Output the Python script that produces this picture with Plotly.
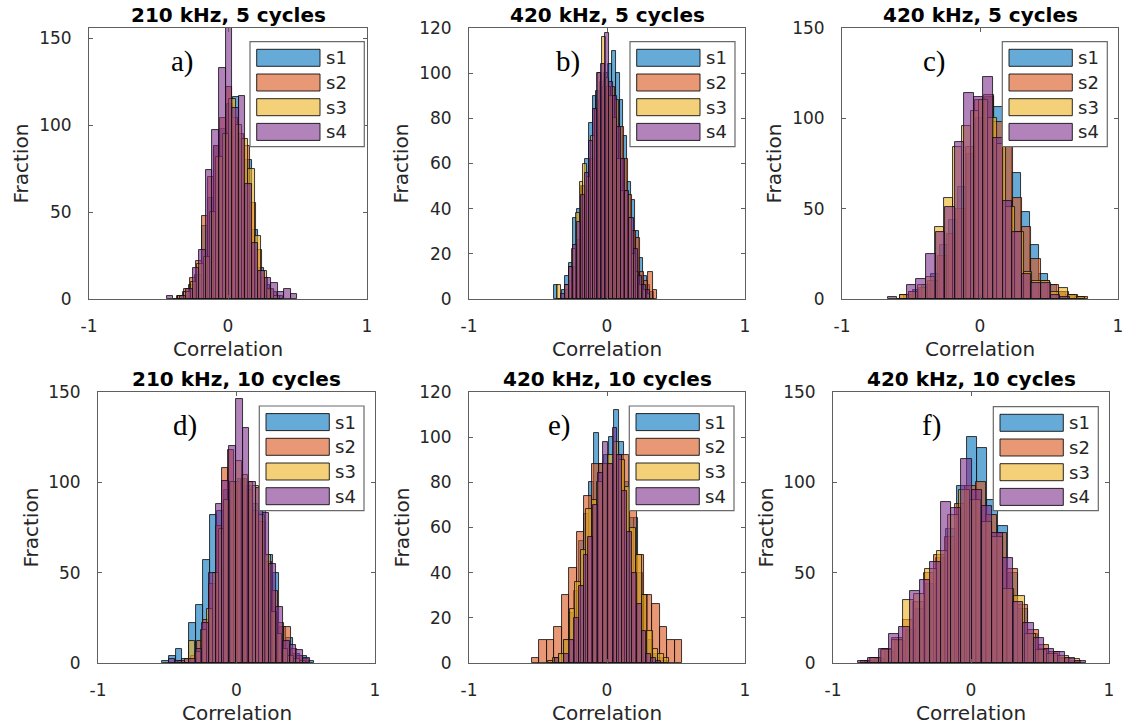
import plotly.graph_objects as go

W, H = 1126, 726

SERIES = ["s1", "s2", "s3", "s4"]
FILL = ["rgba(0,114,189,0.6)", "rgba(217,83,25,0.6)",
        "rgba(237,177,32,0.6)", "rgba(126,47,142,0.6)"]
EDGE = "rgba(15,15,15,0.9)"

# ---- histogram data: first bin edge, bin width, counts per bin ----
# a) 210 kHz, 5 cycles
a_s1_bins = (-0.37, 0.045)
a_s1 = [2, 4, 8, 14, 42, 58, 88, 98, 112, 116, 92, 80, 40, 18, 8, 4, 2]
a_s2_bins = (-0.36, 0.043)
a_s2 = [2, 6, 12, 22, 48, 70, 88, 104, 122, 104, 95, 88, 55, 28, 12, 5, 2]
a_s3_bins = (-0.36, 0.046)
a_s3 = [2, 4, 10, 20, 24, 50, 82, 95, 115, 100, 92, 75, 36, 16, 6, 2]
a_s4_bins = (-0.441, 0.047)
a_s4 = [2, 0, 2, 6, 18, 28, 74, 97, 133, 157, 110, 117, 66, 32, 16, 12, 9, 4, 6, 3]

# b) 420 kHz, 5 cycles
b_s1_bins = (-0.385, 0.028)
b_s1 = [6, 0, 4, 10, 16, 36, 40, 50, 62, 78, 90, 92, 96, 100, 104, 110, 100, 88,
        72, 52, 44, 30, 18, 10, 6, 3]
b_s2_bins = (-0.30, 0.030)
b_s2 = [4, 8, 14, 26, 50, 48, 62, 80, 88, 94, 94, 94, 88, 76, 62, 46, 30, 27,
        12, 8, 12, 4]
b_s3_bins = (-0.36, 0.027)
b_s3 = [6, 0, 6, 14, 22, 38, 52, 60, 54, 72, 84, 100, 116, 98, 90, 80, 62, 48,
        48, 36, 20, 12, 6, 4, 2]
b_s4_bins = (-0.33, 0.029)
b_s4 = [2, 6, 14, 24, 34, 46, 56, 70, 84, 100, 104, 118, 96, 90, 76, 62, 48, 36,
        22, 10, 6, 4]

# c) 420 kHz, 5 cycles
c_s1_bins = (-0.55, 0.065)
c_s1 = [2, 5, 8, 14, 30, 44, 62, 80, 100, 112, 106, 92, 70, 48, 30, 14, 8, 4, 2, 1]
c_s2_bins = (-0.58, 0.068)
c_s2 = [2, 4, 6, 10, 24, 36, 50, 84, 110, 113, 98, 86, 56, 40, 22, 10, 8, 4, 2, 1]
c_s3_bins = (-0.58, 0.064)
c_s3 = [2, 4, 8, 12, 40, 56, 84, 96, 104, 110, 100, 86, 51, 37, 15, 10, 10, 4, 6, 2, 1]
c_s4_bins = (-0.67, 0.0695)
c_s4 = [1, 0, 8, 11, 25, 37, 51, 87, 114, 112, 123, 89, 54, 37, 14, 9, 9, 2, 1]

# d) 210 kHz, 10 cycles
d_s1_bins = (-0.54, 0.050)
d_s1 = [1, 4, 8, 2, 22, 32, 57, 82, 84, 96, 100, 102, 98, 88, 84, 60, 50, 20, 14, 5, 4, 1]
d_s2_bins = (-0.42, 0.045)
d_s2 = [1, 2, 4, 12, 24, 44, 76, 108, 118, 100, 102, 96, 84, 78, 56, 40, 22, 20, 8, 4, 2]
d_s3_bins = (-0.34, 0.042)
d_s3 = [12, 6, 18, 30, 50, 74, 90, 100, 112, 104, 100, 98, 82, 60, 28, 16, 8, 4, 2, 1]
d_s4_bins = (-0.49, 0.0485)
d_s4 = [2, 1, 0, 2, 8, 22, 50, 88, 101, 120, 146, 130, 100, 97, 83, 55, 31, 12, 10, 7, 3]

# e) 420 kHz, 10 cycles
e_s1_bins = (-0.42, 0.036)
e_s1 = [1, 2, 4, 10, 22, 32, 54, 66, 80, 102, 88, 92, 100, 112, 98, 80, 64, 64,
        40, 30, 10, 4, 2, 1]
e_s2_bins = (-0.546, 0.0545)
e_s2 = [2, 10, 10, 16, 30, 42, 58, 74, 88, 88, 88, 92, 92, 74, 48, 30, 26, 16, 10, 10]
e_s3_bins = (-0.43, 0.040)
e_s3 = [1, 2, 4, 10, 24, 36, 50, 68, 72, 80, 88, 92, 98, 90, 78, 60, 48, 30, 14, 6, 4, 2]
e_s4_bins = (-0.38, 0.035)
e_s4 = [2, 0, 4, 10, 20, 34, 48, 56, 70, 84, 98, 88, 104, 92, 76, 58, 40, 26, 14, 4, 2, 1]

# f) 420 kHz, 10 cycles
f_s1_bins = (-0.77, 0.074)
f_s1 = [1, 2, 6, 12, 18, 30, 44, 58, 74, 98, 125, 119, 90, 76, 50, 30, 16, 8, 4, 2, 1]
f_s2_bins = (-0.80, 0.076)
f_s2 = [1, 3, 8, 14, 24, 34, 50, 60, 70, 88, 98, 100, 82, 72, 52, 32, 18, 10, 6, 3, 1]
f_s3_bins = (-0.73, 0.080)
f_s3 = [3, 7, 13, 35, 38, 52, 62, 82, 96, 90, 78, 70, 41, 37, 16, 7, 5, 4, 2]
f_s4_bins = (-0.82, 0.075)
f_s4 = [1, 3, 8, 16, 20, 40, 46, 56, 89, 86, 113, 96, 87, 72, 58, 34, 22, 14, 8, 6, 3, 1]

titles = ["210 kHz, 5 cycles", "420 kHz, 5 cycles", "420 kHz, 5 cycles",
          "210 kHz, 10 cycles", "420 kHz, 10 cycles", "420 kHz, 10 cycles"]
letters = ["a)", "b)", "c)", "d)", "e)", "f)"]
x_label = "Correlation"
y_label = "Fraction"
y_max = [156, 120, 150, 150, 120, 150]
y_ticks = [[0, 50, 100, 150], [0, 20, 40, 60, 80, 100, 120], [0, 50, 100, 150],
           [0, 50, 100, 150], [0, 20, 40, 60, 80, 100, 120], [0, 50, 100, 150]]
x_ticks = [-1, 0, 1]
x_ticklabels = ["-1", "0", "1"]

panel_data = [
    [(a_s1_bins, a_s1), (a_s2_bins, a_s2), (a_s3_bins, a_s3), (a_s4_bins, a_s4)],
    [(b_s1_bins, b_s1), (b_s2_bins, b_s2), (b_s3_bins, b_s3), (b_s4_bins, b_s4)],
    [(c_s1_bins, c_s1), (c_s2_bins, c_s2), (c_s3_bins, c_s3), (c_s4_bins, c_s4)],
    [(d_s1_bins, d_s1), (d_s2_bins, d_s2), (d_s3_bins, d_s3), (d_s4_bins, d_s4)],
    [(e_s1_bins, e_s1), (e_s2_bins, e_s2), (e_s3_bins, e_s3), (e_s4_bins, e_s4)],
    [(f_s1_bins, f_s1), (f_s2_bins, f_s2), (f_s3_bins, f_s3), (f_s4_bins, f_s4)],
]

# ---- layout geometry (pixels) ----
axes_px = [  # left, top, right, bottom
    (89, 28, 367, 299), (469, 28, 745, 299), (842, 28, 1118, 299),
    (98, 392, 375, 663), (469, 392, 745, 663), (833, 392, 1109, 663),
]
legend_px = [  # left, top, right, bottom
    (250, 41.7, 364.3, 146.7), (630, 41.7, 735, 146.7), (1002.3, 41.7, 1107.3, 146.7),
    (259.3, 406, 364, 510.7), (629.3, 406, 734, 510.7), (993.3, 406.7, 1098.3, 510.7),
]
letter_px = [(182, 62), (567.5, 62), (935, 62), (185, 425), (559, 425), (931, 425)]


def fx(p):
    return p / W


def fy(p):
    return 1 - p / H


TICK_FONT = dict(family="DejaVu Sans", size=17, color="#262626")
LABEL_FONT = dict(family="DejaVu Sans", size=20, color="#262626")
AX_COLOR = "#5f5f5f"

fig = go.Figure()
shapes, annotations = [], []

for k in range(6):
    xa = "x" if k == 0 else f"x{k + 1}"
    ya = "y" if k == 0 else f"y{k + 1}"
    for j, ((start, width), counts) in enumerate(panel_data[k]):
        centers = [start + width * (i + 0.5) for i in range(len(counts))]
        fig.add_trace(go.Bar(
            x=centers, y=counts, width=[width] * len(counts),
            name=SERIES[j], showlegend=False, xaxis=xa, yaxis=ya,
            marker=dict(color=FILL[j], line=dict(color=EDGE, width=0.9)),
            hoverinfo="x+y+name",
        ))

    l, t, r, b = axes_px[k]
    common = dict(showline=True, mirror="allticks", linecolor=AX_COLOR, linewidth=1,
                  ticks="inside", ticklen=4, tickcolor=AX_COLOR, tickwidth=1,
                  showgrid=False, zeroline=False, tickfont=TICK_FONT,
                  automargin=False)
    xname = "xaxis" if k == 0 else f"xaxis{k + 1}"
    yname = "yaxis" if k == 0 else f"yaxis{k + 1}"
    fig.layout[xname] = dict(
        domain=[fx(l), fx(r)], anchor=ya, range=[-1, 1],
        tickvals=x_ticks, ticktext=x_ticklabels, ticklabelstandoff=12, **common)
    fig.layout[yname] = dict(
        domain=[fy(b), fy(t)], anchor=xa, range=[0, y_max[k]],
        tickvals=y_ticks[k], ticklabelstandoff=13, **common)

    # axis titles
    annotations.append(dict(
        text=x_label, xref="paper", yref="paper", x=fx((l + r) / 2), y=fy(b + 50),
        xanchor="center", yanchor="middle", showarrow=False, font=LABEL_FONT))
    annotations.append(dict(
        text=y_label, xref="paper", yref="paper", x=fx(l - 68), y=fy((t + b) / 2),
        xanchor="center", yanchor="middle", textangle=-90, showarrow=False,
        font=LABEL_FONT))

    # panel title
    annotations.append(dict(
        text=f"<b>{titles[k]}</b>", xref="paper", yref="paper",
        x=fx((l + r) / 2), y=fy(t - 13), xanchor="center", yanchor="middle",
        showarrow=False, font=dict(family="DejaVu Sans", size=20, color="#000000")))

    # panel letter
    lx, ly = letter_px[k]
    annotations.append(dict(
        text=letters[k], xref="paper", yref="paper", x=fx(lx), y=fy(ly),
        xanchor="center", yanchor="middle", showarrow=False,
        font=dict(family="Liberation Serif", size=29, color="#000000")))

    # legend box with large swatches
    L0, T0, R0, B0 = legend_px[k]
    shapes.append(dict(type="rect", xref="paper", yref="paper",
                       x0=fx(L0), x1=fx(R0), y0=fy(B0), y1=fy(T0),
                       fillcolor="white", line=dict(color="#6a6a6a", width=1.2)))
    for j in range(4):
        sy0 = T0 + 7.6 + j * 24.7
        shapes.append(dict(type="rect", xref="paper", yref="paper",
                           x0=fx(L0 + 6.7), x1=fx(L0 + 70), y0=fy(sy0 + 17), y1=fy(sy0),
                           fillcolor=FILL[j], line=dict(color=EDGE, width=1)))
        annotations.append(dict(
            text=SERIES[j], xref="paper", yref="paper",
            x=fx(L0 + 74), y=fy(sy0 + 8.5), xanchor="left", yanchor="middle",
            showarrow=False, font=dict(family="DejaVu Sans", size=18, color="#262626")))

fig.update_layout(
    width=W, height=H, margin=dict(l=0, r=0, t=0, b=0, autoexpand=False),
    paper_bgcolor="white", plot_bgcolor="white",
    barmode="overlay", bargap=0,
    shapes=shapes, annotations=annotations,
    font=dict(family="DejaVu Sans", color="#262626"),
)

fig.write_html("out.html")
